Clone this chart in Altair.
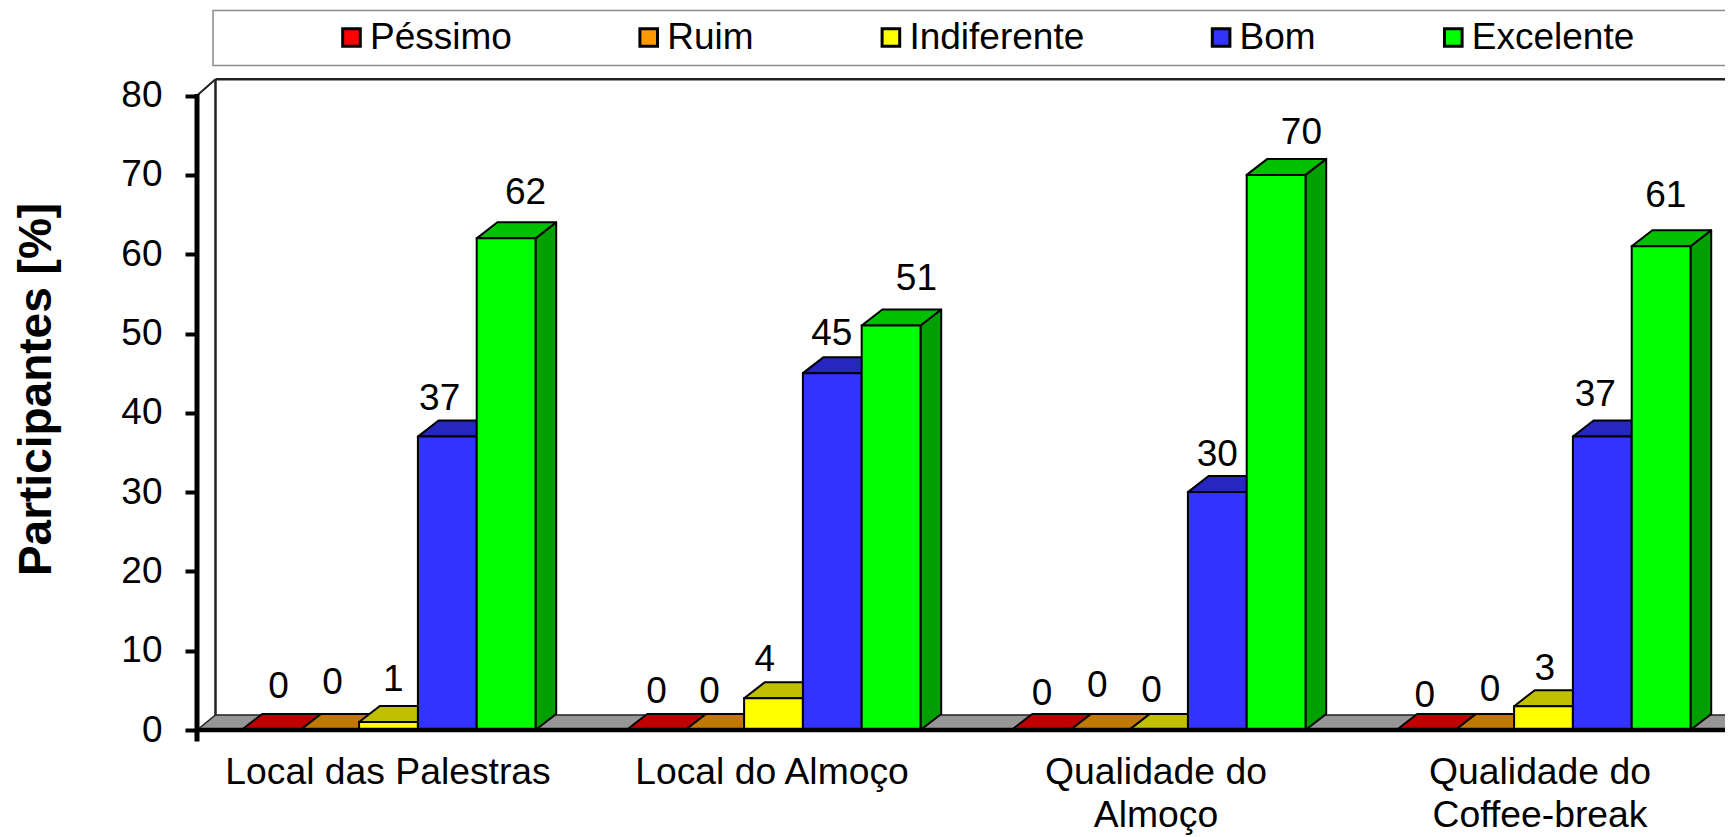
import altair as alt
import pandas as pd

CATEGORIES = ["Local das Palestras", "Local do Almoço", "Qualidade do\nAlmoço", "Qualidade do\nCoffee-break"]
SERIES = ["Péssimo", "Ruim", "Indiferente", "Bom", "Excelente"]
VALUES = {
    "Péssimo": [0, 0, 0, 0],
    "Ruim": [0, 0, 0, 0],
    "Indiferente": [1, 4, 0, 3],
    "Bom": [37, 45, 30, 37],
    "Excelente": [62, 51, 70, 61],
}
# Hand placement of the value labels, as in the original (bar widths / value units)
LABEL_NUDGE_X = {
    "Péssimo": [.13, .01, .02, -.02],
    "Ruim": [.05, -.09, -.04, .09],
    "Indiferente": [.08, -.15, -.12, .02],
    "Bom": [-.13, -.01, 0, -.12],
    "Excelente": [.33, .43, .43, .08],
}
LABEL_NUDGE_Y = {
    "Péssimo": [5.37, 4.81, 4.54, 4.25],
    "Ruim": [5.92, 4.81, 5.5, 5.09],
    "Indiferente": [5.34, 4.85, 4.95, 4.74],
    "Bom": [4.74, 4.97, 4.64, 5.2],
    "Excelente": [5.66, 5.9, 5.3, 6.4],
}
FRONT = ["#ff0000", "#ff9900", "#ffff00", "#3333ff", "#00ff00"]
TOP = ["#c00000", "#c07800", "#c0c000", "#2626c0", "#00c000"]
SIDE = ["#a00000", "#a06000", "#a0a000", "#2020a0", "#00a000"]

FONT = "Liberation Sans"
W, H = 1717, 829
BAR_PX = 58.8
UNIT_PX = 7.93
ZERO_X_PX, ZERO_Y_PX = 233.5, 722.0
X_DOMAIN = [-ZERO_X_PX / BAR_PX, (W - ZERO_X_PX) / BAR_PX]
Y_DOMAIN = [-(H - ZERO_Y_PX) / UNIT_PX, ZERO_Y_PX / UNIT_PX]
STEP = 385 / BAR_PX
DX, DY = 20.7 / BAR_PX, 2.02
AXIS_X = (197 - 8 - ZERO_X_PX) / BAR_PX
WALL_X = (215.5 - 8 - ZERO_X_PX) / BAR_PX
WALL_TOP = 82.05
FLOOR_DY = 1.9

label_values = [(387.5 - 8 - ZERO_X_PX + 384 * i) / BAR_PX for i in range(len(CATEGORIES))]
label_expr = "[" + ",".join(
    "[" + ",".join("'" + p + "'" for p in c.split("\n")) + "]" for c in CATEGORIES
) + "][round((datum.value - %f) / %f)]" % (label_values[0], label_values[1] - label_values[0])

y_axis = alt.Axis(
    values=list(range(0, 90, 10)), offset=-189, domain=False, grid=False,
    tickSize=12, tickWidth=4, tickColor="black", labelFont=FONT, labelFontSize=37,
    labelColor="black", labelPadding=23, title="Participantes [%]", titleFont=FONT,
    titleFontSize=46, titleFontWeight="bold", titleColor="black", titleAngle=270,
    titleAlign="center", titleBaseline="middle", titleX=-160.5, titleY=381,
)
x_axis = alt.Axis(
    values=label_values, labelExpr=label_expr, offset=-107, domain=False, grid=False,
    ticks=False, labelFont=FONT, labelFontSize=37.3, labelColor="black", labelPadding=24.5,
    labelLineHeight=43, labelFlush=False, labelOverlap=False, labelBound=False, labelAngle=0,
    labelLimit=600, title=None,
)

xs = alt.Scale(domain=X_DOMAIN, nice=False, zero=False)
ys = alt.Scale(domain=Y_DOMAIN, nice=False, zero=False)
X = lambda f="x": alt.X(f"{f}:Q", scale=xs, axis=x_axis)
Y = lambda f="y": alt.Y(f"{f}:Q", scale=ys, axis=y_axis)

bars, sides, tops, labels = [], [], [], []
for k, s in enumerate(SERIES):
    for g, v in enumerate(VALUES[s]):
        x0 = g * STEP + k
        x1 = x0 + 1
        bid = f"{g}-{k}"
        bars.append(dict(serie=s, k=k, x=x0, x2=x1, y=v, y2=0))
        sides += [dict(k=k, id=bid, x=x1, y=v, y2=0),
                  dict(k=k, id=bid, x=x1 + DX, y=v + DY, y2=DY)]
        tops += [dict(k=k, id=bid, x=x0, y=v, y2=v),
                 dict(k=k, id=bid, x=x0 + DX, y=v + DY, y2=v),
                 dict(k=k, id=bid, x=x1, y=v + DY, y2=v),
                 dict(k=k, id=bid, x=x1 + DX, y=v + DY, y2=v + DY)]
        labels.append(dict(x=x0 + .5 + LABEL_NUDGE_X[s][g], y=v + LABEL_NUDGE_Y[s][g], t=str(v)))
bars, sides, tops = map(pd.DataFrame, (bars, sides, tops))

legend_box = alt.Chart(pd.DataFrame({"a": [0]})).mark_rect(
    fill="white", stroke="#8c8c8c", strokeWidth=1.5
).encode(x=alt.value(205), x2=alt.value(W + 20), y=alt.value(2.5), y2=alt.value(57.5))

floor_df = pd.DataFrame({
    "x": [AXIS_X, WALL_X, X_DOMAIN[1] + 1],
    "y": [0, FLOOR_DY, FLOOR_DY],
    "y2": [0, 0, 0],
})
floor = alt.Chart(floor_df).mark_area(fill="#969696", stroke="#222222", strokeWidth=1.5).encode(
    x=X(), y=Y(), y2="y2:Q")

wall_v = alt.Chart(pd.DataFrame({"x": [WALL_X], "y": [FLOOR_DY], "y2": [WALL_TOP]})).mark_rule(
    color="#222222", strokeWidth=2.5).encode(x=X(), y=Y(), y2="y2:Q")
wall_h = alt.Chart(pd.DataFrame({"x": [WALL_X], "x2": [X_DOMAIN[1] + 1], "y": [WALL_TOP]})).mark_rule(
    color="#222222", strokeWidth=2.5).encode(x=X(), x2="x2:Q", y=Y())
wall_d = alt.Chart(pd.DataFrame({"x": [AXIS_X, WALL_X], "y": [80, WALL_TOP]})).mark_line(
    color="#222222", strokeWidth=2).encode(x=X(), y=Y())

legend = alt.Legend(
    orient="none", legendX=325, legendY=11, direction="horizontal", columns=5, gridAlign="none",
    title=None, symbolType="square", symbolSize=310, symbolStrokeColor="black", symbolStrokeWidth=3,
    labelFont=FONT, labelFontSize=37, labelColor="black", labelOffset=0, columnPadding=118.2,
    labelLimit=400, symbolOpacity=1, padding=0,
)

bar_layers = []
for k, s in enumerate(SERIES):
    side = alt.Chart(sides[sides.k == k]).mark_area(
        fill=SIDE[k], stroke="black", strokeWidth=2, strokeJoin="round"
    ).encode(x=X(), y=Y(), y2="y2:Q", detail="id:N")
    top = alt.Chart(tops[tops.k == k]).mark_area(
        fill=TOP[k], stroke="black", strokeWidth=2, strokeJoin="round"
    ).encode(x=X(), y=Y(), y2="y2:Q", detail="id:N")
    front = alt.Chart(bars[bars.k == k]).mark_bar(stroke="black", strokeWidth=2, opacity=1).encode(
        x=X(), x2="x2:Q", y=Y(), y2="y2:Q",
        color=alt.Color("serie:N", scale=alt.Scale(domain=SERIES, range=FRONT), legend=legend),
    )
    bar_layers += [side, top, front]

axis_v = alt.Chart(pd.DataFrame({"x": [AXIS_X], "y": [80.2], "y2": [-1.45]})).mark_rule(
    color="black", strokeWidth=5).encode(x=X(), y=Y(), y2="y2:Q")
axis_h = alt.Chart(pd.DataFrame({"x": [AXIS_X], "x2": [X_DOMAIN[1] + 1], "y": [0.0]})).mark_rule(
    color="black", strokeWidth=4.5).encode(x=X(), x2="x2:Q", y=Y())

value_text = alt.Chart(pd.DataFrame(labels)).mark_text(
    font=FONT, fontSize=37, color="black", align="center", baseline="middle"
).encode(x=X(), y=Y(), text="t:N")

chart = alt.layer(
    legend_box, floor, wall_v, wall_h, wall_d, *bar_layers, axis_v, axis_h, value_text
).properties(
    width=W, height=H, padding=0, background="white",
    autosize=alt.AutoSizeParams(type="none"),
).configure_view(stroke=None)

chart.save("out.html", embed_options={"renderer": "svg", "actions": False})
